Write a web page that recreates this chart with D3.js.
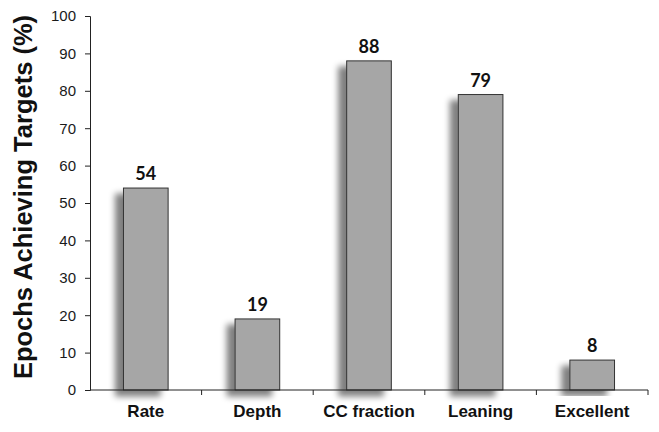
<!DOCTYPE html>
<html>
<head>
<meta charset="utf-8">
<script src="https://cdn.jsdelivr.net/npm/d3@7"></script>
<style>
  body { margin: 0; background: #fff; }
  svg { display: block; }
</style>
</head>
<body>
<div id="chart"></div>
<script>
const categories = ["Rate", "Depth", "CC fraction", "Leaning", "Excellent"];
const values = [54, 19, 88, 79, 8];
const yTicks = [0, 10, 20, 30, 40, 50, 60, 70, 80, 90, 100];

const width = 659, height = 432;
const margin = {top: 16, right: 11, bottom: 42, left: 90};
const innerW = width - margin.left - margin.right;
const innerH = height - margin.top - margin.bottom;

let svg = d3.select("#chart").append("svg")
    .attr("width", width)
    .attr("height", height);

// soft shadow down-left of each bar
let defs = svg.append("defs");
let filter = defs.append("filter").attr("id", "shadow")
    .attr("x", "-50%").attr("y", "-20%").attr("width", "200%").attr("height", "140%");
filter.append("feGaussianBlur").attr("in", "SourceAlpha").attr("stdDeviation", 3).attr("result", "blur");
filter.append("feOffset").attr("in", "blur").attr("dx", -8).attr("dy", 6).attr("result", "off");
filter.append("feComponentTransfer").attr("in", "off").attr("result", "soft")
    .append("feFuncA").attr("type", "linear").attr("slope", 0.5);
let merge = filter.append("feMerge");
merge.append("feMergeNode").attr("in", "soft");
merge.append("feMergeNode").attr("in", "SourceGraphic");

let g = svg.append("g").attr("transform", `translate(${margin.left},${margin.top})`);

let x = d3.scaleBand().domain(categories).range([0, innerW]).paddingInner(0.6).paddingOuter(0.3);
let y = d3.scaleLinear().domain([0, 100]).range([innerH, 0]);

// bars
g.selectAll(".bar")
    .data(values)
    .enter()
    .append("rect")
    .attr("class", "bar")
    .attr("x", (d, i) => x(categories[i]))
    .attr("y", d => y(d))
    .attr("width", x.bandwidth())
    .attr("height", d => innerH - y(d))
    .attr("fill", "#a6a6a6")
    .attr("stroke", "#333")
    .attr("stroke-width", 1)
    .attr("filter", "url(#shadow)");

// value labels
g.selectAll(".val")
    .data(values)
    .enter()
    .append("text")
    .attr("class", "val")
    .attr("x", (d, i) => x(categories[i]) + x.bandwidth() / 2)
    .attr("y", d => y(d) - 8)
    .attr("text-anchor", "middle")
    .attr("font-family", "Lato, 'DejaVu Sans', sans-serif")
    .attr("font-weight", "bold")
    .attr("font-size", 18)
    .attr("fill", "#111")
    .text(d => d);

// y axis
let yAxis = g.append("g")
    .call(d3.axisLeft(y).tickValues(yTicks).tickSize(5).tickPadding(9));
yAxis.selectAll("text")
    .attr("font-family", "'Liberation Sans', Arial, sans-serif")
    .attr("font-size", 15)
    .attr("fill", "#1a1a1a");
yAxis.selectAll("line, path").attr("stroke", "#222");

// x axis with ticks between the categories
let xAxis = g.append("g").attr("transform", `translate(0,${innerH})`);
xAxis.append("line").attr("x1", 0).attr("x2", innerW).attr("y1", 0).attr("y2", 0).attr("stroke", "#222");
let step = innerW / categories.length;
xAxis.selectAll(".sep")
    .data(d3.range(1, categories.length + 1))
    .enter()
    .append("line")
    .attr("x1", d => d * step).attr("x2", d => d * step)
    .attr("y1", 0).attr("y2", 5)
    .attr("stroke", "#222");
xAxis.selectAll(".lab")
    .data(categories)
    .enter()
    .append("text")
    .attr("x", d => x(d) + x.bandwidth() / 2)
    .attr("y", 27)
    .attr("text-anchor", "middle")
    .attr("font-family", "'Liberation Sans', Arial, sans-serif")
    .attr("font-weight", "bold")
    .attr("font-size", 17)
    .attr("fill", "#111")
    .text(d => d);

// y title
svg.append("text")
    .attr("transform", `translate(32,197) rotate(-90)`)
    .attr("text-anchor", "middle")
    .attr("font-family", "'Liberation Sans', Arial, sans-serif")
    .attr("font-weight", "bold")
    .attr("font-size", 25.5)
    .attr("fill", "#111")
    .text("Epochs Achieving Targets (%)");
</script>
</body>
</html>
